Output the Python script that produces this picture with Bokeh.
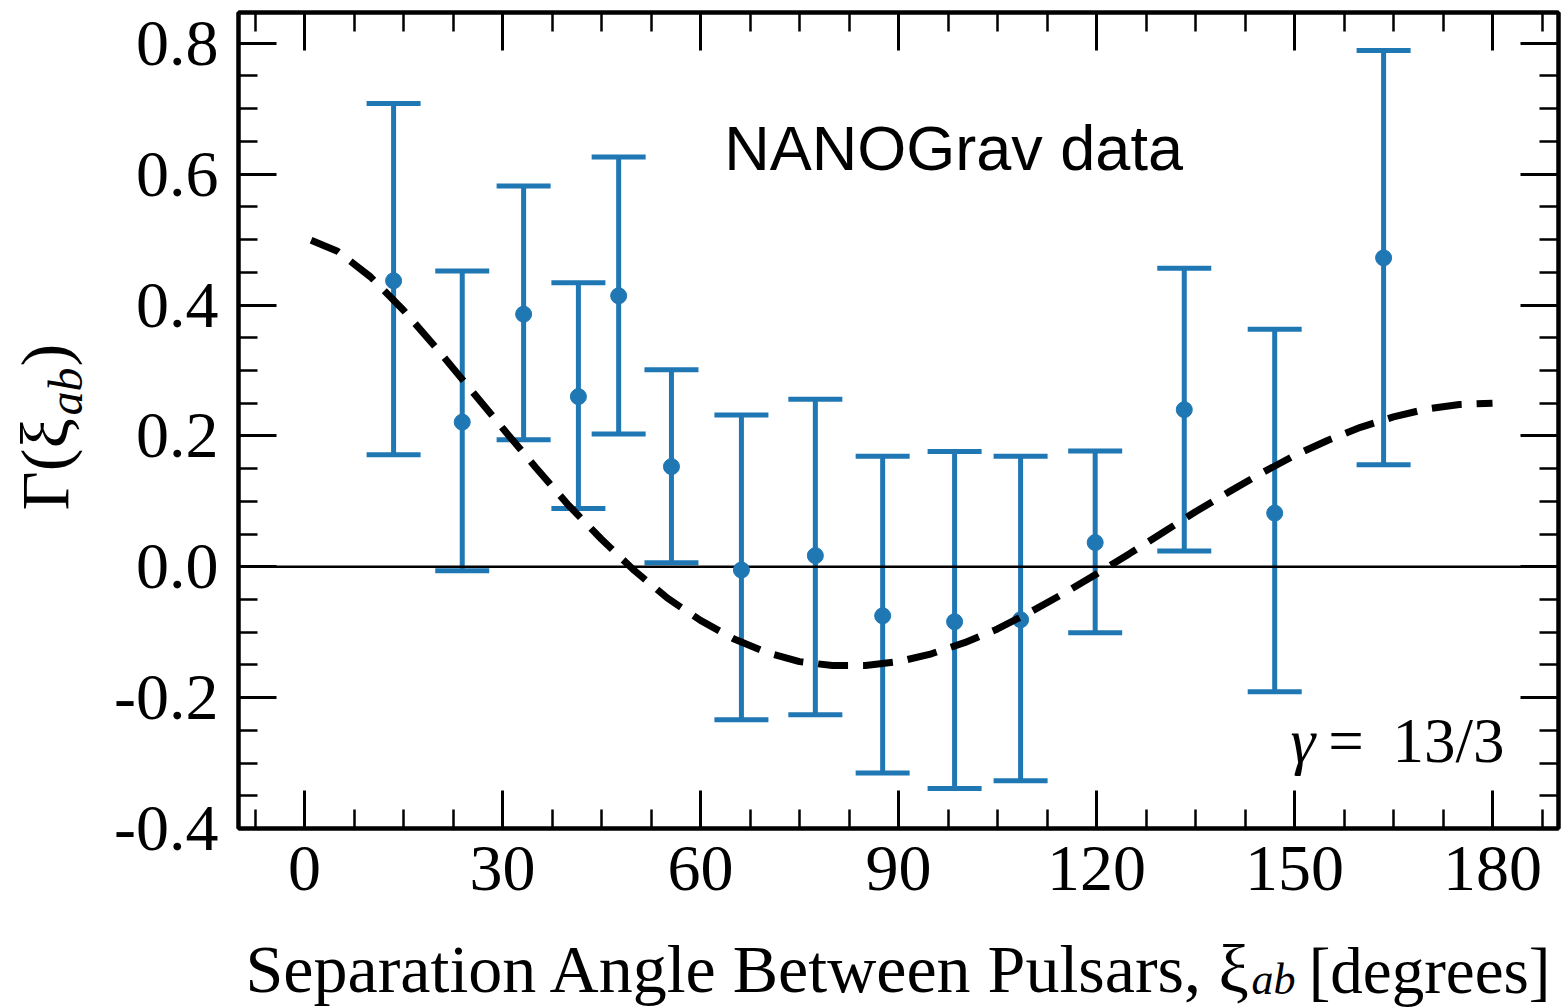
import numpy as np
from bokeh.plotting import figure
from bokeh.models import (ColumnDataSource, Whisker, TeeHead, Span, Label,
                          FixedTicker, LinearAxis, Range1d, CustomJSTickFormatter, GridBox)
from bokeh.embed import file_html
from bokeh.resources import INLINE

# Binned cross-correlations vs. pulsar separation angle
sep_deg = [13.5, 23.9, 33.2, 41.5, 47.6, 55.6, 66.2, 77.4, 87.6, 98.5, 108.5, 119.8, 133.3, 147.0, 163.5]
corr_val = [0.437, 0.221, 0.386, 0.260, 0.414, 0.153, -0.005, 0.017, -0.075, -0.084, -0.081, 0.037, 0.240, 0.082, 0.472]
corr_lo = [0.171, -0.006, 0.194, 0.089, 0.203, 0.006, -0.234, -0.226, -0.315, -0.339, -0.327, -0.101, 0.024, -0.191, 0.156]
corr_hi = [0.708, 0.452, 0.582, 0.434, 0.626, 0.301, 0.232, 0.256, 0.169, 0.176, 0.169, 0.177, 0.456, 0.363, 0.789]

# Expected correlation curve (Hellings-Downs)
curve_deg = [1, 5, 10, 15, 20, 25, 30, 35, 40, 45, 50, 55, 60, 65, 70, 75, 80, 85, 90,
             95, 100, 105, 110, 115, 120, 125, 130, 135, 140, 145, 150, 155, 160, 165, 170, 175, 180]
curve_val = [0.499, 0.482, 0.443, 0.392, 0.334, 0.273, 0.212, 0.152, 0.094, 0.042, -0.006, -0.048,
             -0.082, -0.110, -0.131, -0.145, -0.151, -0.151, -0.145, -0.133, -0.116, -0.095, -0.069,
             -0.041, -0.011, 0.020, 0.052, 0.084, 0.114, 0.143, 0.170, 0.193, 0.213, 0.229, 0.241,
             0.248, 0.250]

# Axis ticks
x_major = [0, 30, 60, 90, 120, 150, 180]
x_labels = ["0", "30", "60", "90", "120", "150", "180"]
y_major = [-0.4, -0.2, 0.0, 0.2, 0.4, 0.6, 0.8]
y_labels = ["-0.4", "-0.2", "0.0", "0.2", "0.4", "0.6", "0.8"]
x_minor = list(np.arange(-7.5, 190, 7.5))
y_minor = list(np.round(np.arange(-0.4, 0.85, 0.05), 3))

W, H = 1564, 1007
BLUE = "#1f77b4"
SERIF = "Liberation Serif"

p = figure(width=W, height=H,
           x_range=Range1d(-10, 190), y_range=Range1d(-0.4, 0.847),
           output_backend="svg", toolbar_location=None,
           min_border_left=238, min_border_right=6,
           min_border_top=12, min_border_bottom=179)
p.frame_align = False
p.xgrid.visible = False
p.ygrid.visible = False
p.outline_line_color = "black"
p.outline_line_width = 4
p.background_fill_color = "white"
p.border_fill_color = "white"

def style_axis(ax, ticks, minor, labels=None):
    ax.ticker = FixedTicker(ticks=ticks, minor_ticks=minor)
    ax.axis_line_width = 4
    ax.axis_line_color = "black"
    ax.major_tick_in = 38
    ax.major_tick_out = 0
    ax.minor_tick_in = 19
    ax.minor_tick_out = 0
    ax.major_tick_line_width = 3
    ax.minor_tick_line_width = 2.5
    ax.major_tick_line_color = "black"
    ax.minor_tick_line_color = "black"
    if labels is None:
        ax.formatter = CustomJSTickFormatter(code="return ''")
        ax.major_label_text_font_size = "0px"
        ax.major_label_standoff = 0
    else:
        ax.major_label_overrides = {t: l for t, l in zip(ticks, labels)}
        ax.major_label_text_font = SERIF
        ax.major_label_text_font_size = "66px"
        ax.major_label_text_color = "black"

style_axis(p.xaxis[0], x_major, x_minor, x_labels)
p.xaxis[0].major_label_standoff = 18
style_axis(p.yaxis[0], y_major, y_minor, y_labels)
p.yaxis[0].major_label_standoff = 20

top_ax = LinearAxis()
right_ax = LinearAxis()
style_axis(top_ax, x_major, x_minor)
style_axis(right_ax, y_major, y_minor)
p.add_layout(top_ax, "above")
p.add_layout(right_ax, "right")

src = ColumnDataSource(dict(x=sep_deg, y=corr_val, lo=corr_lo, hi=corr_hi))

zero = Span(location=0, dimension="width", line_color="black", line_width=2.5, level="underlay")
bars = Whisker(base="x", lower="lo", upper="hi", source=src, level="underlay",
               line_color=BLUE, line_width=5,
               upper_head=TeeHead(size=54, line_color=BLUE, line_width=5),
               lower_head=TeeHead(size=54, line_color=BLUE, line_width=5))
p.add_layout(bars)
p.add_layout(zero)

p.scatter("x", "y", source=src, size=16, color=BLUE)
p.line(curve_deg, curve_val, line_color="black", line_width=7, line_dash="30 15")

def add_label(fig, **kw):
    fig.add_layout(Label(x_units="data", y_units="data", text_color="black", **kw))

# in-plot annotations (anchor = bottom of the text box)
add_label(p, x=63.6, y=0.587, text="NANOGrav data", text_font="Liberation Sans",
          text_font_size="63px")
add_label(p, x=149.4, y=-0.320, text="γ", text_font=SERIF, text_font_style="italic",
          text_font_size="63px")
add_label(p, x=155.1, y=-0.320, text="=", text_font=SERIF, text_font_size="63px")
add_label(p, x=181.8, y=-0.320, text="13/3", text_font=SERIF, text_font_size="63px",
          text_align="right")

# transparent overlay holding the axis titles (pixel coordinates, origin bottom-left)
t = figure(width=W, height=H, x_range=Range1d(0, W), y_range=Range1d(0, H),
           output_backend="svg", toolbar_location=None,
           x_axis_type=None, y_axis_type=None, min_border=0)
t.frame_align = False
t.xgrid.visible = False
t.ygrid.visible = False
t.outline_line_color = None
t.background_fill_alpha = 0
t.border_fill_alpha = 0

xb = 1
add_label(t, x=245, y=xb, text="Separation Angle Between Pulsars,", text_font=SERIF,
          text_font_size="68px")
add_label(t, x=1218, y=xb, text="ξ", text_font=SERIF, text_font_size="68px")
add_label(t, x=1251, y=4, text="ab", text_font=SERIF, text_font_style="italic",
          text_font_size="44px")
add_label(t, x=1550, y=xb, text="[degrees]", text_font=SERIF, text_font_size="65px",
          text_align="right")

add_label(t, x=82, y=H - 510, text="Γ(ξ", text_font=SERIF, text_font_size="68px",
          angle=np.pi / 2)
add_label(t, x=91, y=H - 415, text="ab", text_font=SERIF, text_font_style="italic",
          text_font_size="48px", angle=np.pi / 2)
add_label(t, x=82, y=H - 366, text=")", text_font=SERIF, text_font_size="68px",
          angle=np.pi / 2)

layout = GridBox(children=[(p, 0, 0), (t, 0, 0)])

open("out.html", "w").write(file_html(layout, INLINE))
